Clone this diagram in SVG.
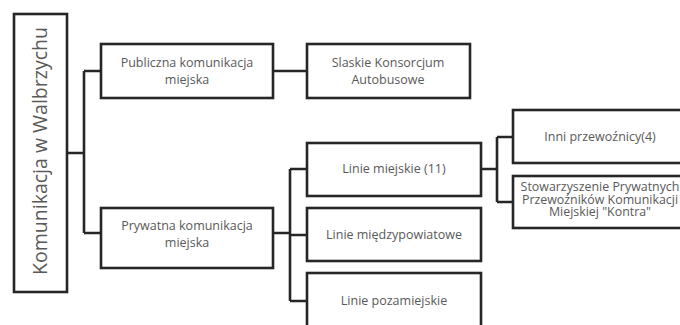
<svg xmlns="http://www.w3.org/2000/svg" width="680" height="325" viewBox="0 0 680 325">
<style>
.box{fill:#ffffff;stroke:#262626;stroke-width:2.6}
.conn{fill:none;stroke:#262626;stroke-width:2.6}
text{font-family:"Open Sans","Liberation Sans",sans-serif;fill:#595959;text-anchor:middle}
.t{font-size:12.5px}
.s{font-size:12.4px}
.root{font-size:19.5px}
</style>
<rect width="680" height="325" fill="#ffffff"/>
<g id="connectors">
<path class="conn" d="M67,153 H84 M84,71 V233 M84,71 H101 M84,233 H101"/>
<path class="conn" d="M273,71 H307"/>
<path class="conn" d="M273,233 H290 M290,169 V301 M290,169 H307 M290,235 H307 M290,301 H307"/>
<path class="conn" d="M481,169 H497 M497,137 V202 M497,137 H513 M497,202 H513"/>
</g>
<g id="root">
<rect class="box" x="14" y="14" width="53" height="278"/>
<text class="root" transform="translate(47,151) rotate(-90)">Komunikacja w Walbrzychu</text>
</g>
<g id="publiczna">
<rect class="box" x="101" y="44" width="172" height="54"/>
<text class="t" x="187" y="67">Publiczna komunikacja</text>
<text class="t" x="187" y="84">miejska</text>
</g>
<g id="slaskie">
<rect class="box" x="307" y="44" width="163" height="54"/>
<text class="t" x="388" y="67">Slaskie Konsorcjum</text>
<text class="t" x="388" y="84">Autobusowe</text>
</g>
<g id="prywatna">
<rect class="box" x="101" y="208" width="172" height="60"/>
<text class="t" x="187" y="230">Prywatna komunikacja</text>
<text class="t" x="187" y="247">miejska</text>
</g>
<g id="linie-miejskie">
<rect class="box" x="307" y="143" width="174" height="53"/>
<text class="t" x="394" y="173">Linie miejskie (11)</text>
</g>
<g id="linie-miedzypowiatowe">
<rect class="box" x="307" y="208" width="174" height="53"/>
<text class="t" x="394" y="239">Linie międzypowiatowe</text>
</g>
<g id="linie-pozamiejskie">
<rect class="box" x="307" y="273" width="174" height="60"/>
<text class="t" x="394" y="305">Linie pozamiejskie</text>
</g>
<g id="inni">
<rect class="box" x="513" y="110" width="174" height="53"/>
<text class="t" x="600" y="141">Inni przewoźnicy(4)</text>
</g>
<g id="stowarzyszenie">
<rect class="box" x="513" y="176" width="174" height="52"/>
<text class="s" x="600" y="191">Stowarzyszenie Prywatnych</text>
<text class="s" x="600" y="203.5">Przewoźników Komunikacji</text>
<text class="s" x="600" y="216">Miejskiej "Kontra"</text>
</g>
</svg>
